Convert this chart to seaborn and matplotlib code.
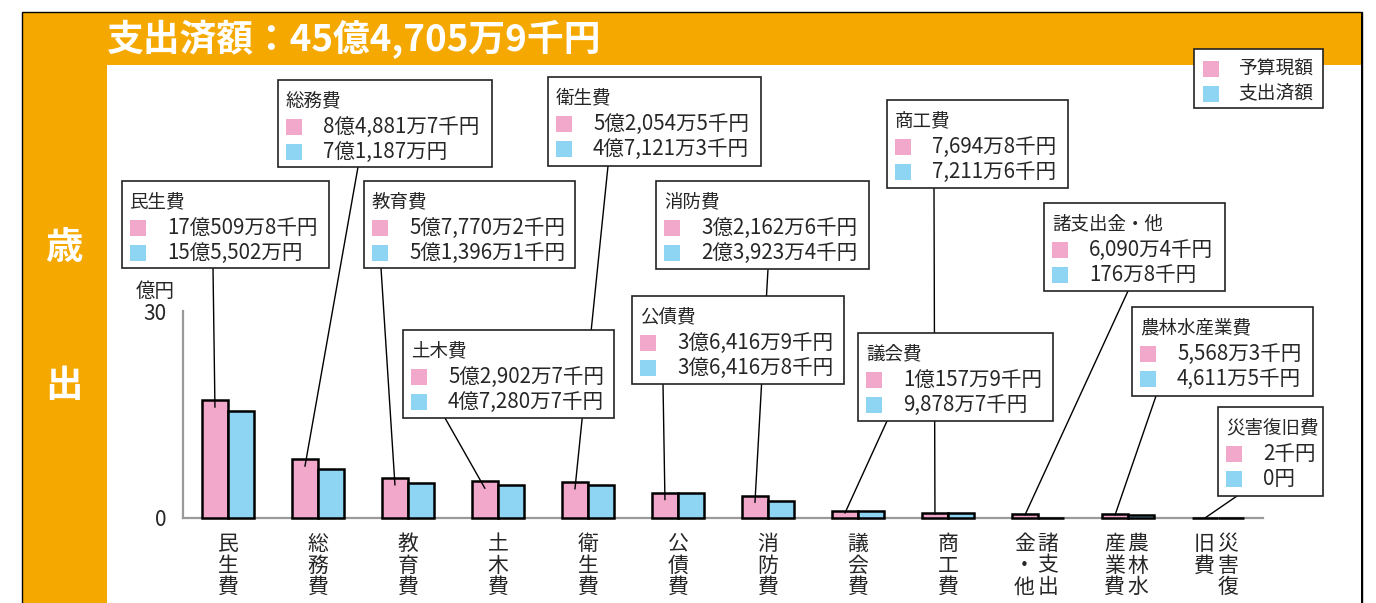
import numpy as np
import pandas as pd
import seaborn as sns
import matplotlib.pyplot as plt
from matplotlib.patches import Rectangle
from matplotlib import transforms

sns.set_style('white')
plt.rcParams['font.family'] = ['Noto Sans CJK JP', 'DejaVu Sans']

# data (億円)
categories = ["民生費", "総務費", "教育費", "土木費", "衛生費", "公債費", "消防費",
              "議会費", "商工費", "諸支出金・他", "農林水産業費", "災害復旧費"]
budget = [17.05098, 8.48817, 5.77702, 5.29027, 5.20545, 3.64169, 3.21626,
          1.01579, 0.76948, 0.60904, 0.55683, 0.00002]
spent = [15.5502, 7.1187, 5.13961, 4.72807, 4.71213, 3.64168, 2.39234,
         0.98787, 0.72116, 0.01768, 0.46115, 0.0]
budget_text = ["17億509万8千円", "8億4,881万7千円", "5億7,770万2千円", "5億2,902万7千円",
               "5億2,054万5千円", "3億6,416万9千円", "3億2,162万6千円", "1億157万9千円",
               "7,694万8千円", "6,090万4千円", "5,568万3千円", "2千円"]
spent_text = ["15億5,502万円", "7億1,187万円", "5億1,396万1千円", "4億7,280万7千円",
              "4億7,121万3千円", "3億6,416万8千円", "2億3,923万4千円", "9,878万7千円",
              "7,211万6千円", "176万8千円", "4,611万5千円", "0円"]
# vertical axis labels, columns right to left
axis_cols = [["民生費"], ["総務費"], ["教育費"], ["土木費"], ["衛生費"], ["公債費"],
             ["消防費"], ["議会費"], ["商工費"], ["諸支出", "金・他"],
             ["農林水", "産業費"], ["災害復", "旧費"]]
series = ["予算現額", "支出済額"]
title = "支出済額：45億4,705万9千円"

ORANGE = '#F5A800'
PINK = '#F2A8CA'
BLUE = '#8ED4F3'
GRAY = '#9a9a9a'

W, H = 1376, 603
def fx(x):
    return x / W
def fy(y):
    return 1 - y / H

fig = plt.figure(figsize=(W / 100, H / 100), dpi=100)

def rect_px(l, t, r, b, **kw):
    return Rectangle((fx(l), fy(b)), (r - l) / W, (b - t) / H,
                     transform=fig.transFigure, **kw)

# frame
fig.add_artist(rect_px(22, 12, 1362, 640, facecolor=ORANGE, edgecolor='black', lw=1, zorder=-10))
fig.add_artist(rect_px(107, 65, 1362, 640, facecolor='white', edgecolor='none', zorder=-9))
fig.add_artist(rect_px(1361, 12, 1362.5, 640, facecolor='black', edgecolor='none', zorder=-8))
fig.text(fx(107), fy(39), title, color='white', fontsize=26.5, fontweight='bold', va='center')
fig.text(fx(64), fy(248), "歳", color='white', fontsize=27, fontweight='bold', ha='center', va='center')
fig.text(fx(64), fy(385), "出", color='white', fontsize=27, fontweight='bold', ha='center', va='center')

# bars
ax = fig.add_axes([fx(183), fy(518), (1263 - 183) / W, (518 - 311) / H])
ax.set_facecolor('none')
df = pd.DataFrame({'category': categories * 2,
                   'value': budget + spent,
                   'kind': [series[0]] * len(categories) + [series[1]] * len(categories)})
sns.barplot(data=df, x='category', y='value', hue='kind', palette=[PINK, BLUE],
            width=0.58, gap=0, edgecolor='black', linewidth=1.8, errorbar=None,
            saturation=1, legend=False, ax=ax)
for p in ax.patches:
    p.set_clip_on(False)
    p.set_zorder(3)
ax.set_xlim(-0.5, 11.5)
ax.set_ylim(0, 30)
ax.set_xlabel('')
ax.set_ylabel('')
ax.set_xticks(np.arange(0.5, 12, 1))
ax.set_xticklabels([])
ax.set_yticks([0, 30])
ax.set_yticklabels(['0', '30'], fontsize=15)
ax.tick_params(axis='both', direction='in', length=4, width=1.2, color=GRAY)
ax.tick_params(axis='y', pad=12)
for s in ['top', 'right']:
    ax.spines[s].set_visible(False)
for s in ['left', 'bottom']:
    ax.spines[s].set_color(GRAY)
    ax.spines[s].set_linewidth(1.6)
fig.text(fx(155), fy(291), "億円", fontsize=14, ha='center', va='center')

# category labels (vertical)
trans = transforms.blended_transform_factory(ax.transData, fig.transFigure)
for i, cols in enumerate(axis_cols):
    offs = [0] if len(cols) == 1 else [0.11, -0.15]
    for col, o in zip(cols, offs):
        ax.text(i + o, fy(533), '\n'.join(col), transform=trans, ha='center', va='top',
                fontsize=15, linespacing=0.98, clip_on=False)

# callout boxes: left, top, right, bottom, leader x
boxes = [(122, 181, 329, 268, 213), (278, 80, 492, 167, 358), (364, 181, 575, 268, 381),
         (403, 330, 614, 418, 445), (548, 77, 761, 166, 608), (632, 296, 844, 384, 663),
         (656, 181, 869, 269, 768), (858, 333, 1053, 421, 887), (887, 100, 1068, 188, 934),
         (1044, 203, 1225, 291, 1128), (1132, 307, 1313, 396, 1156), (1218, 407, 1323, 496, 1237)]

for i, (l, t, r, b, sx) in enumerate(boxes):
    yend = budget[i] - min(1.0, budget[i] * 0.3)
    ax.annotate('', xy=(i - 0.145, yend), xycoords='data',
                xytext=(fx(sx), fy(b)), textcoords='figure fraction',
                arrowprops=dict(arrowstyle='-', color='black', lw=1, shrinkA=0, shrinkB=0),
                annotation_clip=False, zorder=4)
    fig.add_artist(rect_px(l, t, r, b, facecolor='white', edgecolor='#222222', lw=1.2, zorder=5))
    fig.text(fx(l + 8), fy(t + 21), categories[i], fontsize=13.3, va='center', zorder=6)
    for k, (txt, c) in enumerate([(budget_text[i], PINK), (spent_text[i], BLUE)]):
        yc = t + 47 + 25 * k
        fig.add_artist(rect_px(l + 8, yc - 8, l + 24, yc + 8, facecolor=c, edgecolor='none', zorder=6))
        fig.text(fx(l + 45), fy(yc), txt, fontsize=14.8, va='center', zorder=6)

# legend
fig.add_artist(rect_px(1194, 49, 1323, 108, facecolor='white', edgecolor='#222222', lw=1.2, zorder=5))
for k, (name, c) in enumerate(zip(series, [PINK, BLUE])):
    yc = 69 + 25 * k
    fig.add_artist(rect_px(1203, yc - 8, 1219, yc + 8, facecolor=c, edgecolor='none', zorder=6))
    fig.text(fx(1238), fy(yc), name, fontsize=13.5, va='center', zorder=6)

fig.savefig('out.png', dpi=100)
